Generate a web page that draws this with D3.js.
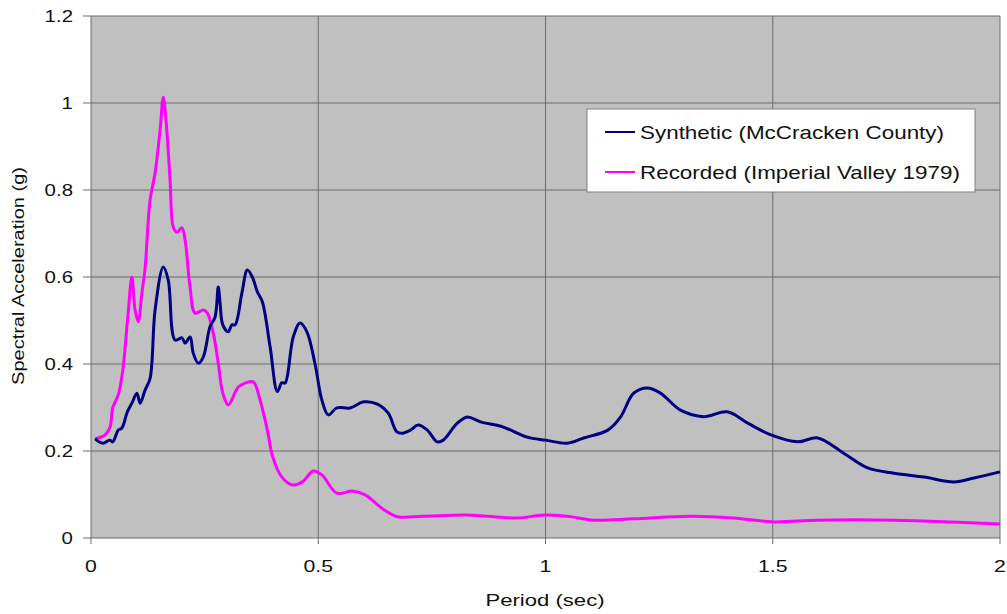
<!DOCTYPE html>
<html>
<head>
<meta charset="utf-8">
<style>
  body { margin: 0; background: #fff; }
  svg text { font-family: "Liberation Sans", Arial, sans-serif; fill: #111; }
</style>
</head>
<body>
<svg id="chart" width="1007" height="614"></svg>
<script src="https://d3js.org/d3.v7.min.js"></script>
<script>
// periods (sec) and spectral accelerations (g)
const synthPeriod = [0.009, 0.026, 0.042, 0.048, 0.060, 0.068, 0.080, 0.090, 0.101, 0.108, 0.119, 0.130, 0.141, 0.159, 0.170, 0.185, 0.200, 0.207, 0.218, 0.225, 0.236, 0.247, 0.262, 0.273, 0.280, 0.284, 0.290, 0.302, 0.310, 0.317, 0.332, 0.344, 0.355, 0.366, 0.377, 0.394, 0.410, 0.420, 0.427, 0.445, 0.460, 0.475, 0.493, 0.508, 0.522, 0.541, 0.570, 0.600, 0.630, 0.654, 0.673, 0.685, 0.703, 0.720, 0.740, 0.762, 0.775, 0.806, 0.828, 0.857, 0.907, 0.960, 1.000, 1.048, 1.084, 1.137, 1.165, 1.194, 1.224, 1.253, 1.297, 1.348, 1.400, 1.445, 1.496, 1.555, 1.599, 1.656, 1.709, 1.767, 1.833, 1.899, 1.943, 2.000];
const synthAccel  = [0.228, 0.218, 0.225, 0.221, 0.248, 0.253, 0.290, 0.310, 0.333, 0.310, 0.340, 0.367, 0.524, 0.623, 0.593, 0.455, 0.460, 0.448, 0.462, 0.425, 0.402, 0.416, 0.486, 0.508, 0.577, 0.540, 0.490, 0.474, 0.490, 0.490, 0.563, 0.616, 0.600, 0.566, 0.543, 0.440, 0.337, 0.357, 0.356, 0.462, 0.494, 0.474, 0.400, 0.317, 0.283, 0.299, 0.299, 0.313, 0.308, 0.287, 0.244, 0.241, 0.248, 0.260, 0.248, 0.221, 0.225, 0.264, 0.278, 0.267, 0.255, 0.232, 0.225, 0.218, 0.230, 0.248, 0.278, 0.333, 0.345, 0.333, 0.294, 0.279, 0.290, 0.264, 0.237, 0.221, 0.230, 0.195, 0.161, 0.149, 0.140, 0.129, 0.138, 0.152];

const recPeriod = [0.009, 0.031, 0.042, 0.048, 0.060, 0.070, 0.081, 0.090, 0.097, 0.104, 0.112, 0.119, 0.130, 0.141, 0.152, 0.159, 0.165, 0.174, 0.181, 0.189, 0.200, 0.207, 0.218, 0.229, 0.247, 0.256, 0.269, 0.280, 0.290, 0.302, 0.324, 0.339, 0.357, 0.372, 0.388, 0.400, 0.420, 0.443, 0.465, 0.489, 0.508, 0.541, 0.575, 0.603, 0.643, 0.674, 0.731, 0.828, 0.938, 0.996, 1.048, 1.106, 1.194, 1.319, 1.414, 1.502, 1.599, 1.767, 1.892, 2.000];
const recAccel  = [0.228, 0.237, 0.255, 0.300, 0.329, 0.386, 0.508, 0.600, 0.524, 0.497, 0.563, 0.620, 0.777, 0.839, 0.938, 1.013, 0.961, 0.823, 0.715, 0.703, 0.713, 0.685, 0.577, 0.517, 0.524, 0.517, 0.471, 0.402, 0.333, 0.306, 0.347, 0.356, 0.359, 0.317, 0.248, 0.186, 0.140, 0.122, 0.129, 0.154, 0.145, 0.103, 0.108, 0.099, 0.066, 0.049, 0.050, 0.053, 0.046, 0.053, 0.050, 0.041, 0.044, 0.050, 0.046, 0.037, 0.041, 0.041, 0.037, 0.032];

const xTicks = [0, 0.5, 1, 1.5, 2];
const yTicks = [0, 0.2, 0.4, 0.6, 0.8, 1, 1.2];

const seriesNames = ["Synthetic (McCracken County)", "Recorded (Imperial Valley 1979)"];
const seriesColors = ["#000080", "#ff00ff"];

const svg = d3.select("#chart");
const plot = { left: 91, right: 1000, top: 16, bottom: 538 };

const x = d3.scaleLinear().domain([0, 2]).range([plot.left, plot.right]);
const y = d3.scaleLinear().domain([0, 1.2]).range([plot.bottom, plot.top]);

// the original's text is a bit wider than Arial, so stretch it sideways
function widen(sel, k) {
    sel.each(function () {
        const w = this.getComputedTextLength();
        d3.select(this)
            .attr("textLength", w * k)
            .attr("lengthAdjust", "spacingAndGlyphs");
    });
}

// plot background
svg.append("rect")
    .attr("x", plot.left)
    .attr("y", plot.top)
    .attr("width", plot.right - plot.left)
    .attr("height", plot.bottom - plot.top)
    .attr("fill", "#c0c0c0");

// gridlines
svg.append("g")
    .selectAll("line")
    .data(yTicks)
    .join("line")
    .attr("x1", plot.left - 8)
    .attr("x2", plot.right)
    .attr("y1", d => y(d))
    .attr("y2", d => y(d))
    .attr("stroke", "#6c6c6c")
    .attr("stroke-width", 1);

svg.append("g")
    .selectAll("line")
    .data(xTicks)
    .join("line")
    .attr("x1", d => x(d))
    .attr("x2", d => x(d))
    .attr("y1", plot.top)
    .attr("y2", plot.bottom + 6)
    .attr("stroke", "#6c6c6c")
    .attr("stroke-width", 1);

// tick labels
svg.append("g")
    .selectAll("text")
    .data(yTicks)
    .join("text")
    .attr("x", 73)
    .attr("y", d => y(d))
    .attr("dy", "0.35em")
    .attr("text-anchor", "end")
    .attr("font-size", 17)
    .text(d => d)
    .call(widen, 1.2);

svg.append("g")
    .selectAll("text")
    .data(xTicks)
    .join("text")
    .attr("x", d => x(d))
    .attr("y", 572)
    .attr("text-anchor", "middle")
    .attr("font-size", 17)
    .text(d => d)
    .call(widen, 1.25);

// axis titles
svg.append("text")
    .attr("x", 545)
    .attr("y", 606)
    .attr("text-anchor", "middle")
    .attr("font-size", 17)
    .text("Period (sec)")
    .call(widen, 1.3);

svg.append("text")
    .attr("transform", "translate(24,276) rotate(-90)")
    .attr("text-anchor", "middle")
    .attr("font-size", 16)
    .text("Spectral Acceleration (g)")
    .call(widen, 1.25);

// series lines
const line = d3.line()
    .x(d => x(d[0]))
    .y(d => y(d[1]))
    .curve(d3.curveCatmullRom.alpha(0.5));

const synthData = d3.zip(synthPeriod, synthAccel);
const recData = d3.zip(recPeriod, recAccel);

svg.append("path")
    .datum(recData)
    .attr("d", line)
    .attr("fill", "none")
    .attr("stroke", seriesColors[1])
    .attr("stroke-width", 3)
    .attr("stroke-linejoin", "round");

svg.append("path")
    .datum(synthData)
    .attr("d", line)
    .attr("fill", "none")
    .attr("stroke", seriesColors[0])
    .attr("stroke-width", 3)
    .attr("stroke-linejoin", "round");

// legend
const legend = svg.append("g").attr("transform", "translate(587,109)");
legend.append("rect")
    .attr("width", 388)
    .attr("height", 83)
    .attr("fill", "#fff")
    .attr("stroke", "#808080");

const rows = legend.selectAll("g.row")
    .data(seriesNames)
    .join("g")
    .attr("class", "row")
    .attr("transform", (d, i) => `translate(0,${23 + i * 40})`);

rows.append("line")
    .attr("x1", 18)
    .attr("x2", 48)
    .attr("stroke", (d, i) => seriesColors[i])
    .attr("stroke-width", 2);

rows.append("text")
    .attr("x", 53)
    .attr("dy", "0.35em")
    .attr("font-size", 19)
    .text(d => d)
    .call(widen, 1.18);
</script>
</body>
</html>
